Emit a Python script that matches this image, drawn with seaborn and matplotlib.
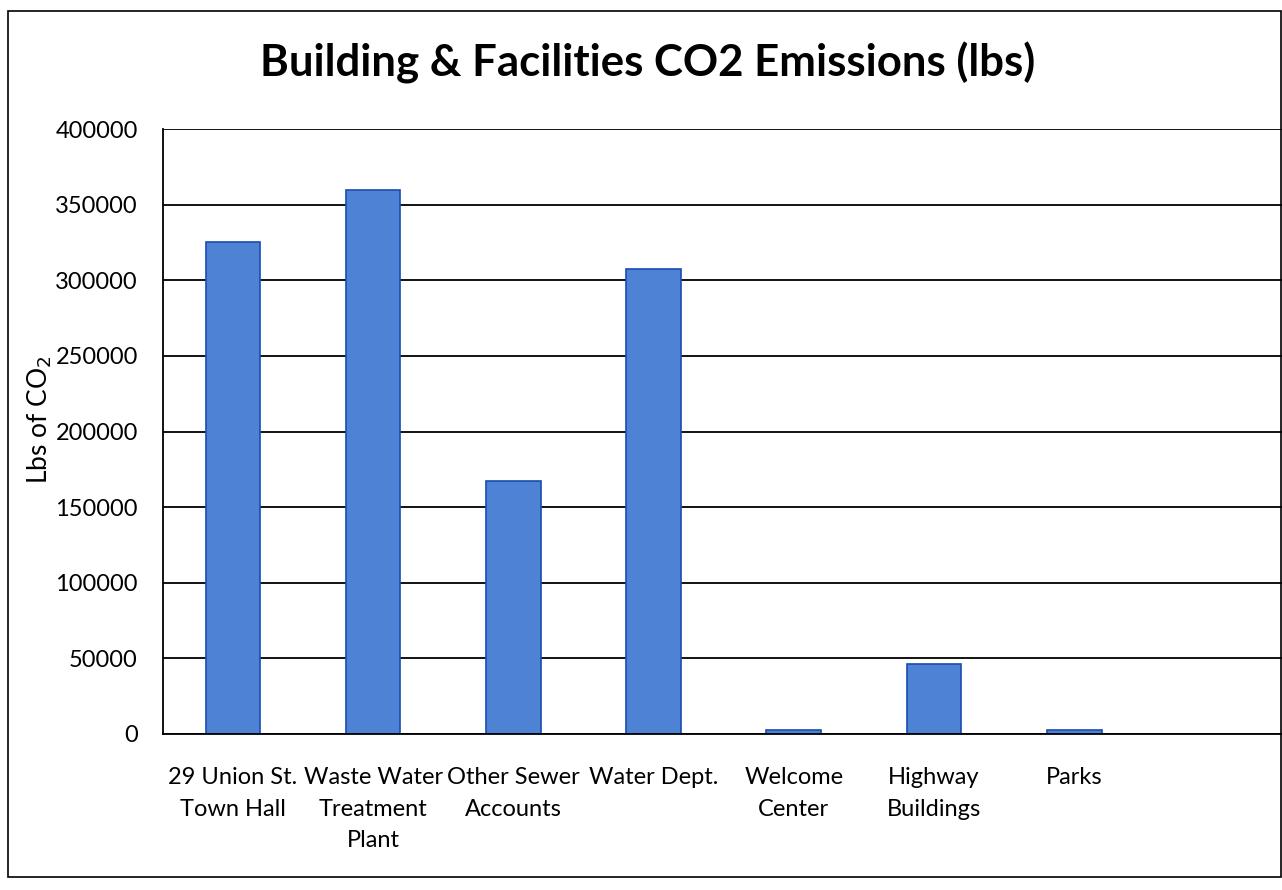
"""
Building & Facilities CO2 Emissions (lbs) - bar chart
"""

import matplotlib
matplotlib.use("Agg")
import matplotlib.pyplot as plt
import seaborn as sns
import pandas as pd

# данные
facilities = [
    "29 Union St.\nTown Hall",
    "Waste Water\nTreatment\nPlant",
    "Other Sewer\nAccounts",
    "Water Dept.",
    "Welcome\nCenter",
    "Highway\nBuildings",
    "Parks",
]
co2_lbs = [325000, 360000, 167000, 307500, 2600, 46000, 2700]
y_ticks = [0, 50000, 100000, 150000, 200000, 250000, 300000, 350000, 400000]

df = pd.DataFrame({"facility": facilities, "co2": co2_lbs})

sns.set_theme(style="white")
plt.rcParams["font.family"] = ["Lato", "DejaVu Sans"]
plt.rcParams["text.color"] = "black"
plt.rcParams["axes.labelcolor"] = "black"

fig = plt.figure(figsize=(12.82, 8.90), dpi=100)
ax = fig.add_axes([0.127, 0.1753, 0.875, 0.6797])

sns.barplot(
    data=df, x="facility", y="co2", ax=ax,
    color="#4d82d4", edgecolor="#1a4cb0", linewidth=1.2,
    width=0.39, saturation=1,
)

# сетка и оси
ax.set_ylim(0, 400000)
ax.set_xlim(-0.5, 7.5)
ax.set_yticks(y_ticks)
ax.set_yticklabels([str(v) for v in y_ticks], fontsize=17)
ax.yaxis.grid(True, color="black", linewidth=1.3)
ax.set_axisbelow(True)
for side in ["top", "right"]:
    ax.spines[side].set_visible(False)
for side in ["left", "bottom"]:
    ax.spines[side].set_color("black")
    ax.spines[side].set_linewidth(1.3)
ax.tick_params(axis="both", length=0, labelcolor="black")
ax.tick_params(axis="y", pad=18)
ax.tick_params(axis="x", labelsize=17, pad=24)
for lbl in ax.get_xticklabels():
    lbl.set_linespacing(1.6)
ax.set_xlabel("")
ax.set_ylabel("Lbs of CO$_2$", fontsize=19)
ax.yaxis.set_label_coords(-0.097, 0.52)

fig.suptitle("Building & Facilities CO2 Emissions (lbs)",
             x=0.505, y=0.929, va="center", fontsize=31.5, fontweight="bold")

# рамка диаграммы
fig.add_artist(plt.Rectangle((0.006, 0.015), 0.993, 0.973,
                             transform=fig.transFigure, fill=False,
                             edgecolor="black", linewidth=1.2))

fig.savefig("out.png", dpi=100)
